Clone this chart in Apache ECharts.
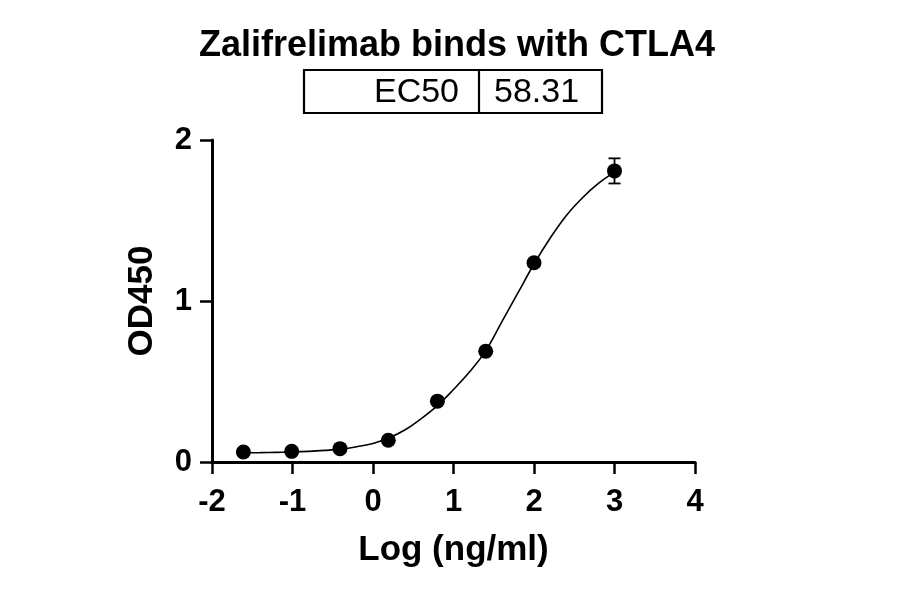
<!DOCTYPE html>
<html>
<head>
<meta charset="utf-8">
<script src="https://cdn.jsdelivr.net/npm/echarts@6/dist/echarts.min.js"></script>
<style>
  html, body { margin: 0; padding: 0; background: #fff; }
  #chart { width: 900px; height: 594px; }
</style>
</head>
<body>
<div id="chart"></div>
<script>
// measured points (log concentration, mean OD450, sd)
const logConc = [-1.61, -1.01, -0.41, 0.19, 0.80, 1.40, 2.00, 3.00];
const od450 = [0.062, 0.066, 0.083, 0.135, 0.378, 0.688, 1.238, 1.808];
const odErr = [0, 0, 0, 0, 0, 0, 0, 0.078];

// fitted curve
const fitX = [-1.61, -1.4, -1.2, -1.0, -0.8, -0.6, -0.4, -0.2, 0.0, 0.2, 0.4, 0.6, 0.8, 1.0, 1.2, 1.4, 1.6, 1.8, 2.0, 2.2, 2.4, 2.6, 2.8, 3.0];
const fitY = [0.057, 0.058, 0.060, 0.062, 0.066, 0.072, 0.080, 0.095, 0.115, 0.150, 0.200, 0.270, 0.350, 0.450, 0.560, 0.690, 0.870, 1.050, 1.230, 1.390, 1.530, 1.640, 1.730, 1.800];

const xTicks = [-2, -1, 0, 1, 2, 3, 4];
const yTicks = [0, 1, 2];
const ec50Label = 'EC50';
const ec50Value = '58.31';

const chart = echarts.init(document.getElementById('chart'));

const font = 'Liberation Sans, Arial, sans-serif';

const axisCommon = {
  axisLine: { show: true, onZero: false, lineStyle: { color: '#000', width: 3 } },
  axisTick: { show: true, inside: false, length: 12, lineStyle: { color: '#000', width: 2.5 } },
  splitLine: { show: false },
  axisLabel: { color: '#000', fontFamily: font, fontWeight: 'bold', fontSize: 31 },
  nameLocation: 'middle',
  nameTextStyle: { color: '#000', fontFamily: font, fontWeight: 'bold', fontSize: 35 }
};

const option = {
  animation: false,
  backgroundColor: '#fff',
  title: {
    text: 'Zalifrelimab binds with CTLA4',
    left: 452, top: 23, textAlign: 'center',
    textStyle: { color: '#000', fontFamily: font, fontWeight: 'bold', fontSize: 36 }
  },
  grid: { left: 212, right: 205, top: 140, bottom: 132, containLabel: false },
  xAxis: Object.assign({}, axisCommon, {
    type: 'value', min: xTicks[0], max: xTicks[xTicks.length - 1], interval: 1,
    name: 'Log (ng/ml)', nameGap: 71,
    axisLabel: Object.assign({}, axisCommon.axisLabel, { margin: 25 })
  }),
  yAxis: Object.assign({}, axisCommon, {
    type: 'value', min: yTicks[0], max: yTicks[yTicks.length - 1], interval: 1,
    name: 'OD450', nameGap: 52,
    axisLabel: Object.assign({}, axisCommon.axisLabel, { margin: 20 })
  }),
  graphic: [
    { type: 'rect', shape: { x: 304, y: 70, width: 298, height: 43 },
      style: { fill: '#fff', stroke: '#000', lineWidth: 2.2 } },
    { type: 'line', shape: { x1: 479, y1: 70, x2: 479, y2: 113 },
      style: { stroke: '#000', lineWidth: 2.2 } },
    { type: 'text', x: 459, y: 93,
      style: { text: ec50Label, fill: '#000', font: '34px ' + font, align: 'right', verticalAlign: 'middle' } },
    { type: 'text', x: 494, y: 93,
      style: { text: ec50Value, fill: '#000', font: '34px ' + font, align: 'left', verticalAlign: 'middle' } }
  ],
  series: [
    {
      type: 'line', smooth: 0.4, showSymbol: false, silent: true,
      data: fitX.map((x, i) => [x, fitY[i]]),
      lineStyle: { color: '#000', width: 1.6 }
    },
    {
      type: 'custom', silent: true,
      data: logConc.map((x, i) => [x, od450[i], odErr[i]]),
      renderItem: function (params, api) {
        const x = api.value(0), y = api.value(1), e = api.value(2);
        if (!e) return null;
        const top = api.coord([x, y + e]);
        const bot = api.coord([x, y - e]);
        const w = 6;
        const st = { stroke: '#000', lineWidth: 1.8 };
        return { type: 'group', children: [
          { type: 'line', shape: { x1: top[0], y1: top[1], x2: bot[0], y2: bot[1] }, style: st },
          { type: 'line', shape: { x1: top[0] - w, y1: top[1], x2: top[0] + w, y2: top[1] }, style: st },
          { type: 'line', shape: { x1: bot[0] - w, y1: bot[1], x2: bot[0] + w, y2: bot[1] }, style: st }
        ] };
      },
      z: 3
    },
    {
      type: 'scatter', symbol: 'circle', symbolSize: 15,
      data: logConc.map((x, i) => [x, od450[i]]),
      itemStyle: { color: '#000', opacity: 1 }, z: 4
    }
  ]
};

chart.setOption(option);
</script>
</body>
</html>
